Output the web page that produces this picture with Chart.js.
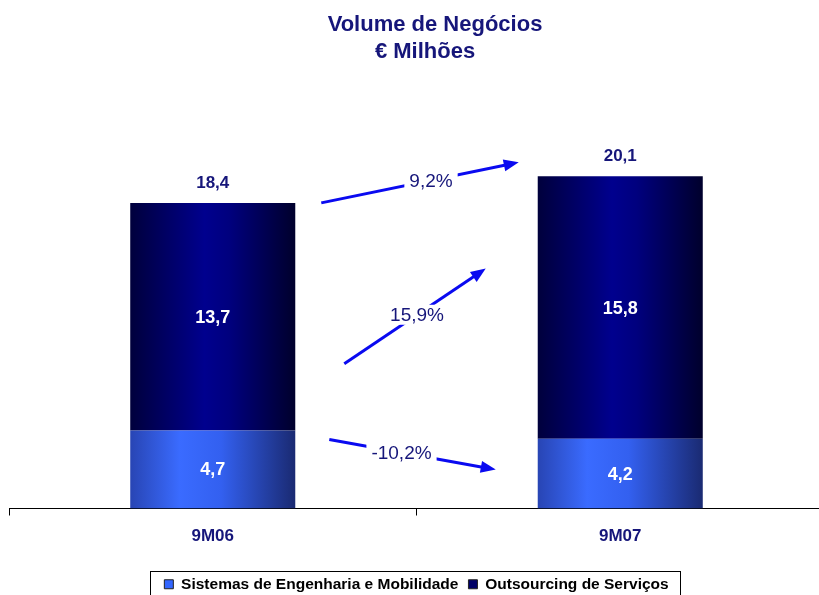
<!DOCTYPE html>
<html>
<head>
<meta charset="utf-8">
<script src="https://cdn.jsdelivr.net/npm/chart.js@4"></script>
<style>
  html, body { margin: 0; padding: 0; background: #fff; overflow: hidden; }
  #wrap { position: relative; width: 830px; height: 602px; }
</style>
</head>
<body>
<div id="wrap"><canvas id="barChart"></canvas></div>
<script>
const categories = ['9M06', '9M07'];
const sistemas = [4.7, 4.2];
const outsourcing = [13.7, 15.8];
const totals = [18.4, 20.1];
const seriesNames = ['Sistemas de Engenharia e Mobilidade', 'Outsourcing de Serviços'];
const growthLabels = ['9,2%', '15,9%', '-10,2%'];

const navy = '#16167a';
const barPct = 0.405;
const fmt = v => v.toFixed(1).replace('.', ',');
const FONT = 'Arial, "Liberation Sans", sans-serif';

// horizontal gradient across each bar
function barGradient(ctx, stops, flat) {
    const chart = ctx.chart;
    const x = chart.scales && chart.scales.x;
    if (!x || ctx.dataIndex === undefined || !chart.chartArea) return flat;
    const cw = (chart.chartArea.right - chart.chartArea.left) / categories.length;
    const cx = x.getPixelForValue(ctx.dataIndex);
    const g = chart.ctx.createLinearGradient(cx - cw * barPct / 2, 0, cx + cw * barPct / 2, 0);
    stops.forEach(s => g.addColorStop(s[0], s[1]));
    return g;
}
const lowStops = [[0, '#2845b4'], [0.3, '#3a6bff'], [0.55, '#3360f0'], [1, '#1a2a72']];
const highStops = [[0, '#00003c'], [0.45, '#00008e'], [0.6, '#00007e'], [1, '#00002c']];

const labelsPlugin = {
    id: 'labels',
    afterDatasetsDraw(chart) {
        const c = chart.ctx;
        c.save();
        c.textAlign = 'center';
        c.textBaseline = 'middle';
        c.font = 'bold 18px ' + FONT;
        c.fillStyle = '#ffffff';
        chart.data.datasets.forEach((ds, di) => {
            chart.getDatasetMeta(di).data.forEach((bar, i) => {
                c.fillText(fmt(ds.data[i]), bar.x, (bar.y + bar.base) / 2 + 1);
            });
        });
        c.font = 'bold 17px ' + FONT;
        c.fillStyle = navy;
        const top = chart.getDatasetMeta(1).data;
        top.forEach((bar, i) => c.fillText(fmt(totals[i]), bar.x, bar.y - 20));

        // growth arrows between the bars
        const m0 = chart.getDatasetMeta(0).data;
        const l = m0[0].x + m0[0].width / 2, r = m0[1].x - m0[1].width / 2;
        const mid = b => (b.y + b.base) / 2;
        const arrows = [
            [l + 26, top[0].y, r - 19, top[1].y - 14, 11],
            [l + 49, mid(top[0]) + 47, r - 52, mid(top[1]) - 39, 2],
            [l + 34, mid(m0[0]) - 30, r - 42, mid(m0[1]) - 4, -11]
        ];
        c.font = '19px ' + FONT;
        arrows.forEach((a, k) => {
            const [x1, y1, x2, y2, shift] = a;
            const txt = growthLabels[k];
            const ang = Math.atan2(y2 - y1, x2 - x1);
            c.strokeStyle = '#0a0af0';
            c.fillStyle = '#0a0af0';
            c.lineWidth = 3;
            c.beginPath();
            c.moveTo(x1, y1);
            c.lineTo(x2 - 12 * Math.cos(ang), y2 - 12 * Math.sin(ang));
            c.stroke();
            c.beginPath();
            c.moveTo(x2, y2);
            c.lineTo(x2 - 15 * Math.cos(ang) + 6 * Math.sin(ang), y2 - 15 * Math.sin(ang) - 6 * Math.cos(ang));
            c.lineTo(x2 - 15 * Math.cos(ang) - 6 * Math.sin(ang), y2 - 15 * Math.sin(ang) + 6 * Math.cos(ang));
            c.closePath();
            c.fill();
            const tx = (x1 + x2) / 2 + shift;
            const ty = y1 + (tx - x1) * Math.tan(ang);
            const w = c.measureText(txt).width;
            c.fillStyle = '#fff';
            c.fillRect(tx - w / 2 - 5, ty - 10, w + 10, 20);
            c.fillStyle = navy;
            c.fillText(txt, tx, ty + 1);
        });

        // title
        c.font = 'bold 22px ' + FONT;
        c.fillStyle = navy;
        c.fillText('Volume de Negócios', 435, 25);
        c.fillText('€ Milhões', 425, 52);

        // legend frame
        const lg = chart.legend;
        if (lg && lg.legendHitBoxes.length) {
            const hb = lg.legendHitBoxes;
            const x0 = hb[0].left - 14, x1 = hb[hb.length - 1].left + hb[hb.length - 1].width + 12;
            c.strokeStyle = '#000';
            c.lineWidth = 1;
            c.strokeRect(Math.round(x0) + 0.5, Math.round(hb[0].top) - 5.5, Math.round(x1 - x0), 50);
        }
        c.restore();
    }
};

new Chart(document.getElementById('barChart'), {
    type: 'bar',
    data: {
        labels: categories,
        datasets: [{
            label: seriesNames[0],
            data: sistemas,
            backgroundColor: ctx => barGradient(ctx, lowStops, '#3366ff'),
            borderWidth: 0
        }, {
            label: seriesNames[1],
            data: outsourcing,
            backgroundColor: ctx => barGradient(ctx, highStops, '#000080'),
            borderWidth: 0
        }]
    },
    options: {
        responsive: true,
        maintainAspectRatio: false,
        animation: false,
        layout: { padding: { left: 9, right: 6, top: 80, bottom: 0 } },
        datasets: { bar: { categoryPercentage: 1, barPercentage: barPct } },
        scales: {
            x: {
                stacked: true,
                grid: { drawOnChartArea: false, color: '#000', tickLength: 7, offset: true },
                border: { color: '#000', width: 1 },
                ticks: { color: navy, padding: 11, font: { family: 'Arial', size: 17, weight: 'bold' } },
                afterFit: s => { s.height = 58; }
            },
            y: { stacked: true, display: false, min: 0, max: 25.8 }
        },
        plugins: {
            tooltip: { enabled: false },
            legend: {
                position: 'bottom',
                labels: {
                    boxWidth: 9, boxHeight: 9, padding: 10, color: navy,
                    font: { family: 'Arial', size: 15.5, weight: 'bold' },
                    generateLabels: () => seriesNames.map((n, i) => ({
                        text: n, fillStyle: ['#3366ff', '#000066'][i],
                        strokeStyle: '#222', lineWidth: 1, datasetIndex: i
                    }))
                }
            }
        }
    },
    plugins: [labelsPlugin]
});
</script>
</body>
</html>
